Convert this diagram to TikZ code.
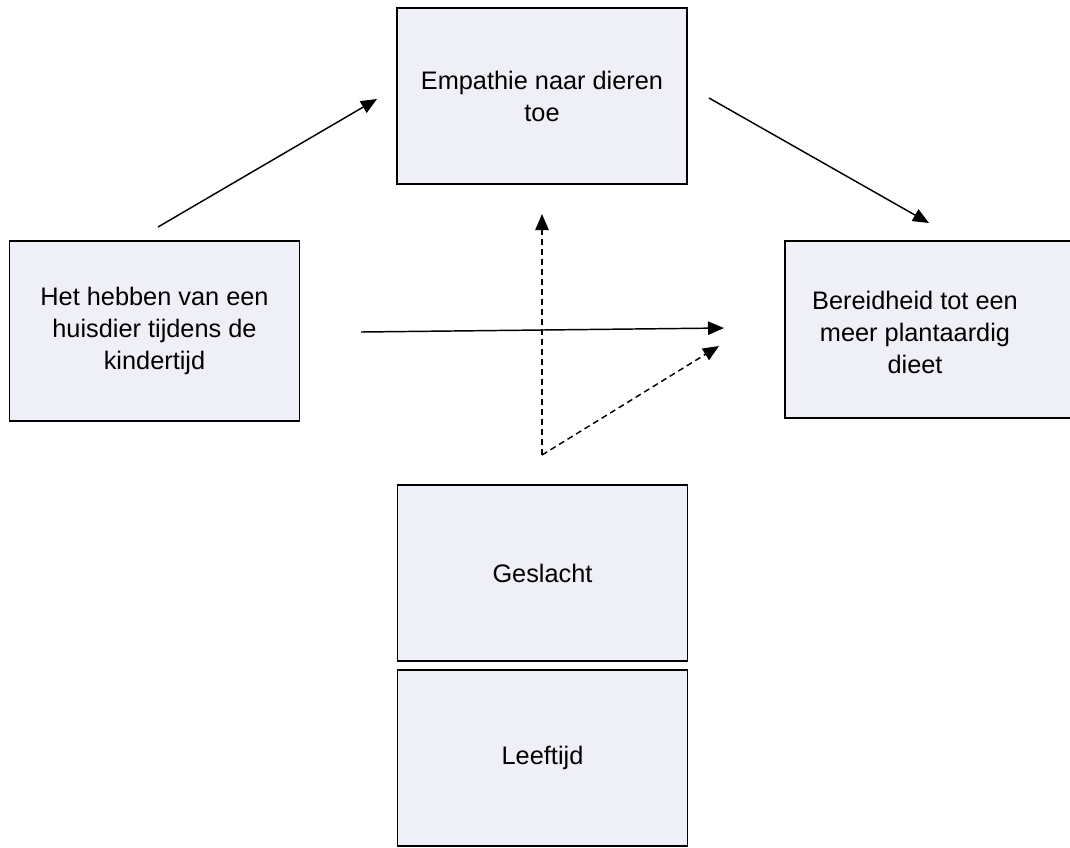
\documentclass[tikz,border=0pt]{standalone}
\usepackage{fontspec}
\setmainfont{Liberation Sans}
\usetikzlibrary{arrows.meta}
\definecolor{boxfill}{HTML}{EFEFF8}
\tikzset{
  box/.style={draw=black, line width=0.8pt, fill=boxfill, minimum width=217.5pt, minimum height=132pt, inner sep=0pt, align=center, font=\fontsize{19}{24}\selectfont},
  txt/.style={align=center, font=\fontsize{19}{24}\selectfont, inner sep=0pt},
  arr/.style={line width=1.1pt, -{Triangle[length=12pt,width=10pt]}},
  darr/.style={line width=1.1pt, dash pattern=on 4.5pt off 3pt, -{Triangle[length=12pt,width=10pt]}}
}
\begin{document}
\begin{tikzpicture}[x=0.75pt,y=-0.75pt]
\useasboundingbox (0,0) rectangle (1070,847);
\begin{scope}
\clip (0,0) rectangle (1070,847);
\node[box] (emp) at (542,96) {Empathie naar dieren\\toe};
\node[box, minimum height=135pt] (het) at (154.5,331) {Het hebben van een\\huisdier tijdens de\\kindertijd};
\draw[draw=black, line width=0.8pt, fill=boxfill] (785,241) rectangle (1080,418);
\node[txt] (ber) at (915,332) {Bereidheid tot een\\meer plantaardig\\dieet};
\node[box] (ges) at (542.5,573) {Geslacht};
\node[box] (lee) at (542.5,758) {Leeftijd};
\end{scope}
\coordinate (a1s) at (158,227);
\coordinate (a1e) at (377,99);
\coordinate (a2s) at (709,98);
\coordinate (a2e) at (929,223);
\coordinate (hs) at (361,332);
\coordinate (he) at (724,328);
\coordinate (ds) at (542,455);
\coordinate (dv) at (542,214);
\coordinate (dd) at (719,346);
\draw[arr] (a1s) -- (a1e);
\draw[arr] (a2s) -- (a2e);
\draw[arr] (hs) -- (he);
\draw[darr] (ds) -- (dv);
\draw[darr] (ds) -- (dd);
\end{tikzpicture}
\end{document}
